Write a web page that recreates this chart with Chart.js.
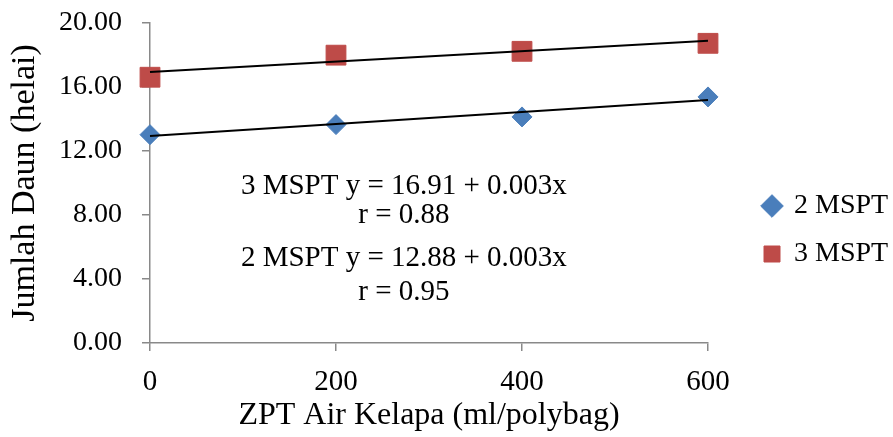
<!DOCTYPE html>
<html>
<head>
<meta charset="utf-8">
<script src="https://cdn.jsdelivr.net/npm/chart.js@4.4.1/dist/chart.umd.min.js"></script>
<style>
    body { margin: 0; background: #fff; }
    #wrap { width: 893px; height: 437px; position: relative; }
</style>
</head>
<body>
<div id="wrap"><canvas id="grafico"></canvas></div>
<script>
// Dosis ZPT air kelapa (ml/polybag)
const dosis = [0, 200, 400, 600];

// Jumlah daun (helai) per umur tanaman
const daun2MSPT = [13.02, 13.65, 14.13, 15.38];
const daun3MSPT = [16.61, 17.99, 18.23, 18.73];

// Garis regresi, nilai di ujung kiri dan kanan
const garisX = [0, 600];
const garis2MSPT = [12.93, 15.19];
const garis3MSPT = [16.93, 18.89];

const ticksY = [0, 4, 8, 12, 16, 20];
const ticksX = [0, 200, 400, 600];

const persamaan = ['3 MSPT y = 16.91 + 0.003x', 'r = 0.88', '2 MSPT y = 12.88 + 0.003x', 'r = 0.95'];

const fonte = '"Liberation Serif", "Times New Roman", serif';
const corEixo = '#898989';

// posição do texto das equações (em valores dos eixos)
const posPersamaan = { x: 273, y: [9.81, 8.0, 5.31, 3.19] };

const pluginPersamaan = {
    id: 'persamaan',
    afterDatasetsDraw(chart) {
        const ctx = chart.ctx;
        const sx = chart.scales.x;
        const sy = chart.scales.y;
        ctx.save();
        ctx.font = '29px ' + fonte;
        ctx.fillStyle = '#000';
        ctx.textAlign = 'center';
        ctx.textBaseline = 'middle';
        persamaan.forEach((texto, i) => {
            ctx.fillText(texto, sx.getPixelForValue(posPersamaan.x), sy.getPixelForValue(posPersamaan.y[i]));
        });
        ctx.restore();
    }
};

// empurra a legenda um pouco para a direita
const pluginLegenda = {
    id: 'geserLegenda',
    afterLayout(chart) {
        chart.legend.left = 744;
        chart.legend.right = chart.width;
        chart.legend.top = 23;
    }
};

function pontos(xs, ys) {
    return xs.map((x, i) => ({ x: x, y: ys[i] }));
}

const config = {
    type: 'scatter',
    data: {
        datasets: [{
            label: '2 MSPT',
            data: pontos(dosis, daun2MSPT),
            pointStyle: 'rectRot',
            pointRadius: 10,
            pointHoverRadius: 10,
            backgroundColor: '#4a7ebb',
            borderColor: '#4a7ebb',
            borderWidth: 1,
            clip: false,
            order: 1
        },
        {
            label: '3 MSPT',
            data: pontos(dosis, daun3MSPT),
            pointStyle: 'rect',
            pointRadius: 14,
            pointHoverRadius: 14,
            backgroundColor: '#be4b48',
            borderColor: '#be4b48',
            borderWidth: 1,
            clip: false,
            order: 1
        },
        {
            label: 'garis 2',
            data: pontos(garisX, garis2MSPT),
            showLine: true,
            pointRadius: 0,
            borderColor: '#000',
            borderWidth: 2,
            clip: false,
            order: 0
        },
        {
            label: 'garis 3',
            data: pontos(garisX, garis3MSPT),
            showLine: true,
            pointRadius: 0,
            borderColor: '#000',
            borderWidth: 2,
            clip: false,
            order: 0
        }]
    },
    options: {
        responsive: true,
        maintainAspectRatio: false,
        animation: false,
        layout: {
            padding: { top: 23, right: 45, bottom: 0, left: 0 }
        },
        plugins: {
            tooltip: { enabled: false },
            legend: {
                position: 'right',
                maxWidth: 140,
                labels: {
                    usePointStyle: true,
                    boxWidth: 16,
                    boxHeight: 16,
                    padding: 20,
                    color: '#000',
                    font: { family: fonte, size: 28 },
                    filter: (item) => item.datasetIndex < 2
                }
            }
        },
        scales: {
            x: {
                type: 'linear',
                position: 'bottom',
                min: 0,
                max: 600,
                afterBuildTicks: (s) => { s.ticks = ticksX.map(v => ({ value: v })); },
                afterFit: (s) => { s.height = 94; },
                border: { display: true, color: corEixo, width: 1.5 },
                grid: { drawOnChartArea: false, drawTicks: true, tickLength: 8, color: corEixo, lineWidth: 1.5 },
                ticks: { padding: 14, color: '#000', font: { family: fonte, size: 29 } },
                title: {
                    display: true,
                    text: 'ZPT Air Kelapa (ml/polybag)',
                    color: '#000',
                    font: { family: fonte, size: 32 },
                    padding: { top: 0, bottom: 2 }
                }
            },
            y: {
                min: 0,
                max: 20,
                afterBuildTicks: (s) => { s.ticks = ticksY.map(v => ({ value: v })); },
                afterFit: (s) => {
                    s.width = 150;
                    s.paddingTop = 0;
                    s.paddingBottom = 0;
                },
                border: { display: true, color: corEixo, width: 1.5 },
                grid: { drawOnChartArea: false, drawTicks: true, tickLength: 8, color: corEixo, lineWidth: 1.5 },
                ticks: {
                    padding: 20,
                    color: '#000',
                    font: { family: fonte, size: 28 },
                    callback: (v) => v.toFixed(2)
                },
                title: {
                    display: true,
                    text: 'Jumlah Daun (helai)',
                    color: '#000',
                    font: { family: fonte, size: 34 },
                    padding: { top: 5, bottom: 0 }
                }
            }
        }
    },
    plugins: [pluginPersamaan, pluginLegenda]
};

let grafico = new Chart(document.getElementById('grafico'), config);
</script>
</body>
</html>
